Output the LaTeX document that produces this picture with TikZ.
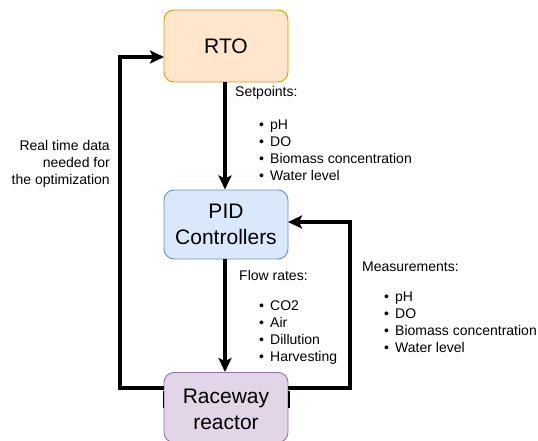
\documentclass[tikz,border=0pt]{standalone}
\usepackage{fontspec}
\setmainfont{Liberation Sans}
\usetikzlibrary{arrows.meta}

\definecolor{rtofill}{HTML}{FFE6CC}
\definecolor{rtoline}{HTML}{D79B00}
\definecolor{pidfill}{HTML}{DAE8FC}
\definecolor{pidline}{HTML}{6C8EBF}
\definecolor{rwfill}{HTML}{E1D5E7}
\definecolor{rwline}{HTML}{9673A6}

\tikzset{
  block/.style={draw, line width=0.9pt, rounded corners=10pt, minimum width=124pt,
    align=center, font=\fontsize{21}{25.5}\selectfont, inner sep=0pt},
  flow/.style={line width=3.2pt, -{Stealth[length=14pt,width=13pt,inset=3pt]}},
  note/.style={inner sep=0pt, font=\fontsize{14}{17}\selectfont},
  bullets/.style={note, align=left, anchor=north west},
}
\newcommand{\itm}[1]{\makebox[11pt][l]{\textbullet}#1}

\begin{document}
\begin{tikzpicture}[x=1pt,y=-1pt]
  \useasboundingbox (0,0) rectangle (538,441);

  % process blocks
  \node[block, fill=rtofill, draw=rtoline, minimum height=72pt] (rto) at (226,46) {RTO};
  \node[block, fill=pidfill, draw=pidline, minimum height=69pt] (pid) at (226,224.5) {PID\\Controllers};
  \node[block, fill=rwfill, draw=rwline, minimum height=70pt, anchor=north] (rw) at (226,372) {};
  \node[inner sep=0pt, align=center, font=\fontsize{21}{25.5}\selectfont] (rwtext) at (226,409.5) {Raceway\\reactor};

  % routing points
  \coordinate (lout) at (164,388);
  \coordinate (lcorner1) at (120,388);
  \coordinate (lcorner2) at (120,57);
  \coordinate (lin) at (164,57);
  \coordinate (rout) at (288,388);
  \coordinate (rcorner1) at (350,388);
  \coordinate (rcorner2) at (350,222);
  \coordinate (rin) at (288,222);

  % connectors
  \draw[flow] (rto.south -| 225,0) -- (pid.north -| 225,0);
  \draw[flow] (pid.south -| 225,0) -- (rw.north -| 225,0);
  \draw[flow] (lout) -- (lcorner1) -- (lcorner2) -- (lin);
  \draw[flow] (rout) -- (rcorner1) -- (rcorner2) -- (rin);
  \draw[line width=1.2pt] (163.5,391) -- (163.5,408);
  \draw[line width=1.2pt] (289,391) -- (289,408);

  % labels
  \node[note, anchor=base west] (sp) at (235,97) {Setpoints:};
  \node[bullets] (splist) at (259,120) {\itm{pH}\\\itm{DO}\\\itm{Biomass concentration}\\\itm{Water level}};

  \node[note, anchor=base west] (fr) at (239,280) {Flow rates:};
  \node[bullets] (frlist) at (259,301) {\itm{CO2}\\\itm{Air}\\\itm{Dillution}\\\itm{Harvesting}};

  \node[note, anchor=base west] (ms) at (362,271) {Measurements:};
  \node[bullets] (mslist) at (384,291.5) {\itm{pH}\\\itm{DO}\\\itm{Biomass concentration}\\\itm{Water level}};

  \node[note, align=right, anchor=north east] (rt) at (110,140) {Real time data\\needed for\\the optimization};
\end{tikzpicture}
\end{document}
